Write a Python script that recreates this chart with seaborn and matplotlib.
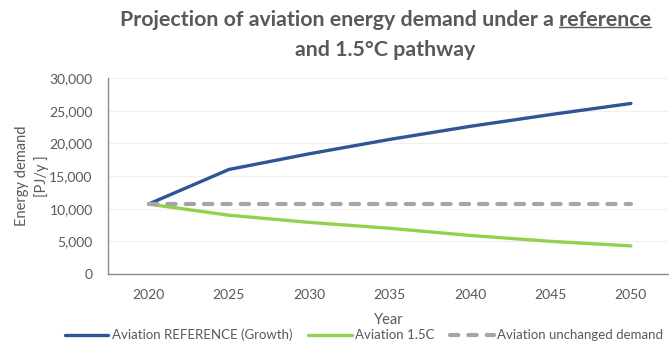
import matplotlib
matplotlib.use("Agg")
import matplotlib.pyplot as plt
import seaborn as sns
import pandas as pd
from matplotlib.ticker import FuncFormatter

years = [2020, 2025, 2030, 2035, 2040, 2045, 2050]
reference_growth = [10700, 16000, 18400, 20600, 22600, 24400, 26100]
aviation_15c = [10700, 9000, 7900, 7000, 5900, 5000, 4300]
unchanged_demand = [10650, 10650, 10650, 10650, 10650, 10650, 10650]
series_names = ["Aviation REFERENCE (Growth)", "Aviation 1.5C", "Aviation unchanged demand"]

sns.set_theme(style="white")
plt.rcParams['font.family'] = ['Lato', 'DejaVu Sans']
txt = "#595959"

fig = plt.figure(figsize=(6.69, 3.52), dpi=100)
ax = fig.add_axes([108/669, 1-274/352, 1-108/669, (274-78)/352])

df = pd.DataFrame({"Year": years,
                   series_names[0]: reference_growth,
                   series_names[1]: aviation_15c,
                   series_names[2]: unchanged_demand})

sns.lineplot(data=df, x="Year", y=series_names[0], ax=ax, color="#2F5597",
             linewidth=2.4, label=series_names[0])
sns.lineplot(data=df, x="Year", y=series_names[1], ax=ax, color="#92D050",
             linewidth=2.4, label=series_names[1])
sns.lineplot(data=df, x="Year", y=series_names[2], ax=ax, color="#A5A5A5",
             linewidth=3.0, label=series_names[2])
gl = ax.lines[-1]
gl.set_linestyle((0, (2.0, 2.4)))
gl.set_dash_capstyle("round")

ax.set_xlim(2017.48, 2052.37)
ax.set_ylim(0, 30000)
ax.set_xticks(years)
ax.set_yticks(range(0, 30001, 5000))
ax.yaxis.set_major_formatter(FuncFormatter(lambda v, p: f"{int(v):,}"))
ax.grid(axis="y", color="#F0F0F0", linewidth=0.8)
ax.set_axisbelow(True)
for s in ["top", "right"]:
    ax.spines[s].set_visible(False)
for s in ["left", "bottom"]:
    ax.spines[s].set_color("#8C8C8C")
    ax.spines[s].set_linewidth(1.0)
ax.tick_params(axis="x", direction="inout", length=5, color="#8C8C8C", width=1,
               labelsize=10, labelcolor=txt, pad=8)
ax.tick_params(axis="y", length=0, labelsize=10, labelcolor=txt, pad=11)
ax.set_xlabel("Year", fontsize=10.5, color=txt, labelpad=9)
ax.set_ylabel("Energy demand\n[PJ/y ]", fontsize=10.5, color=txt, labelpad=0, linespacing=1.45)

leg = ax.legend(loc="center", ncol=3, frameon=False, fontsize=9.5, handlelength=3.3,
                columnspacing=1.2, handletextpad=0.25, labelcolor=txt)
leg.set_bbox_to_anchor((364/669, 1-335/352), transform=fig.transFigure)

cx = 385.5/669
tfs = 15.4
t1 = fig.text(cx, 1-20/352, "Projection of aviation energy demand under a reference",
              ha="center", va="center", fontsize=tfs, fontweight="bold", color=txt)
t2 = fig.text(cx, 1-50/352, "and 1.5°C pathway",
              ha="center", va="center", fontsize=tfs, fontweight="bold", color=txt)

fig.canvas.draw()
r = fig.canvas.get_renderer()
bb = t1.get_window_extent(r)
tmp = fig.text(0, 0, "reference", fontsize=tfs, fontweight="bold")
wref = tmp.get_window_extent(r).width
tmp.remove()
W, H = fig.bbox.width, fig.bbox.height
yline = (bb.y0 + 3) / H
fig.add_artist(plt.Line2D([(bb.x1 - wref) / W, bb.x1 / W], [yline, yline],
                          transform=fig.transFigure, color=txt, linewidth=1.0))

fig.savefig("out.png", dpi=100)
